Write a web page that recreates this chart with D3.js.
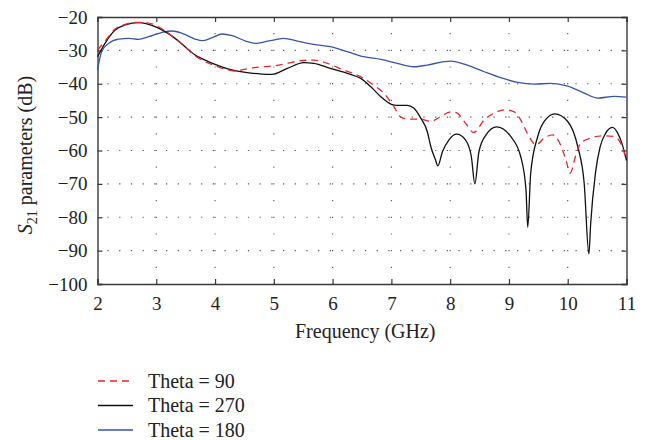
<!DOCTYPE html>
<html><head><meta charset="utf-8">
<script src="https://cdn.jsdelivr.net/npm/d3@7"></script>
<style>
html,body{margin:0;padding:0;background:#fff;}
svg{display:block;font-family:"Liberation Serif","DejaVu Serif",serif;}
</style></head>
<body>
<svg id="chart" width="649" height="440"></svg>
<script>
const xTicks = [2,3,4,5,6,7,8,9,10,11];
const yTicks = [-20,-30,-40,-50,-60,-70,-80,-90,-100];
const seriesNames = ["Theta = 90","Theta = 270","Theta = 180"];

const freq90 = [2.0,2.13,2.3,2.47,2.62,2.78,2.98,3.15,3.32,3.49,3.66,3.83,4.0,4.23,4.35,4.52,4.8,5.03,5.23,5.45,5.68,5.91,6.19,6.48,6.7,6.87,7.04,7.16,7.3,7.5,7.67,7.84,8.01,8.12,8.26,8.4,8.58,8.75,8.92,9.09,9.2,9.34,9.46,9.6,9.74,9.85,9.97,10.04,10.14,10.22,10.39,10.61,10.79,10.9,11.0];
const s90 = [-29.9,-27.2,-23.6,-22.2,-21.6,-21.6,-22.4,-24.2,-26.4,-29.0,-31.6,-33.4,-34.6,-35.9,-36.2,-35.6,-34.9,-34.6,-33.9,-33.1,-32.9,-33.9,-35.9,-37.9,-40.4,-42.8,-46.8,-50.0,-50.6,-50.6,-51.3,-49.8,-48.4,-48.8,-51.8,-54.6,-50.8,-48.8,-47.8,-48.4,-50.8,-55.8,-58.3,-56.3,-55.3,-57.3,-62.8,-66.8,-61.3,-57.8,-56.3,-55.6,-55.8,-57.8,-62.8];

const freq270 = [2.0,2.13,2.3,2.47,2.7,2.98,3.15,3.32,3.49,3.66,3.83,4.0,4.23,4.52,4.8,4.97,5.23,5.51,5.68,5.96,6.25,6.48,6.65,6.82,6.99,7.1,7.27,7.38,7.5,7.61,7.67,7.75,7.79,7.87,7.98,8.11,8.26,8.36,8.42,8.49,8.61,8.79,9.03,9.2,9.29,9.32,9.37,9.49,9.6,9.78,10.0,10.17,10.28,10.36,10.39,10.47,10.55,10.64,10.76,10.85,10.93,11.0];
const s270 = [-31.9,-27.8,-23.9,-22.4,-21.7,-22.9,-24.4,-26.4,-28.9,-31.4,-32.9,-34.2,-35.6,-36.6,-37.1,-37.2,-35.4,-33.7,-33.9,-35.4,-36.9,-38.4,-40.9,-43.9,-46.1,-46.5,-46.5,-47.3,-50.3,-54.3,-58.8,-62.8,-64.6,-60.3,-56.8,-55.1,-56.8,-61.8,-70.0,-60.3,-55.3,-52.9,-55.8,-61.8,-71.8,-83.0,-66.8,-55.8,-51.3,-49.0,-51.3,-58.8,-69.8,-91.0,-82.0,-67.0,-59.0,-55.0,-53.1,-54.8,-58.3,-63.0];

const freq180 = [2.0,2.07,2.19,2.36,2.53,2.7,2.87,3.1,3.27,3.44,3.66,3.78,3.95,4.12,4.29,4.52,4.69,4.86,5.03,5.17,5.4,5.68,5.96,6.25,6.53,6.82,7.1,7.38,7.61,7.89,8.01,8.29,8.58,8.86,9.15,9.43,9.71,10.0,10.28,10.51,10.79,11.0];
const s180 = [-35.9,-30.4,-27.9,-26.6,-26.4,-26.7,-25.9,-24.6,-24.2,-24.9,-26.6,-27.1,-26.2,-25.1,-25.6,-27.2,-27.9,-27.4,-26.8,-26.4,-27.2,-28.2,-28.9,-30.4,-31.9,-32.7,-33.9,-34.9,-34.4,-33.4,-33.2,-34.4,-36.4,-38.2,-39.6,-40.1,-39.9,-40.7,-42.8,-44.3,-43.8,-44.0];

const svg = d3.select("#chart");
const L = 97.5, R = 626.5, T = 17, B = 284;
const x = d3.scaleLinear().domain([2,11]).range([L,R]);
const y = d3.scaleLinear().domain([-100,-20]).range([B,T]);
const fmt = d => d < 0 ? "\u2212" + Math.abs(d) : String(d);
const axisCol = "#3a3a3a";

// grid
const grid = svg.append("g");
grid.selectAll("line.hg").data(yTicks.filter(d => d > -100 && d < -20)).join("line")
  .attr("x1", L).attr("x2", R).attr("y1", d => y(d)).attr("y2", d => y(d))
  .attr("stroke", "#555").attr("stroke-width", 1.1).attr("stroke-dasharray", "1.2,10.5")
  .attr("stroke-dashoffset", -10);
grid.selectAll("line.vg").data(xTicks.filter(d => d > 2 && d < 11)).join("line")
  .attr("x1", d => x(d)).attr("x2", d => x(d)).attr("y1", B).attr("y2", T)
  .attr("stroke", "#555").attr("stroke-width", 1.1).attr("stroke-dasharray", "1.2,15.5")
  .attr("stroke-dashoffset", -16);

// axes (inward ticks, box)
const gB = svg.append("g").attr("transform", `translate(0,${B})`)
  .call(d3.axisBottom(x).tickValues(xTicks).tickSize(-5).tickPadding(9).tickFormat(fmt));
const gT = svg.append("g").attr("transform", `translate(0,${T})`)
  .call(d3.axisTop(x).tickValues(xTicks).tickSize(-5).tickFormat(""));
const gL = svg.append("g").attr("transform", `translate(${L},0)`)
  .call(d3.axisLeft(y).tickValues(yTicks).tickSize(-5).tickPadding(10).tickFormat(fmt));
const gR = svg.append("g").attr("transform", `translate(${R},0)`)
  .call(d3.axisRight(y).tickValues(yTicks).tickSize(-5).tickFormat(""));
[gB,gT,gL,gR].forEach(g => {
  g.select(".domain").attr("stroke", axisCol).attr("stroke-width", 1.4);
  g.selectAll(".tick line").attr("stroke", axisCol).attr("stroke-width", 1.2);
  g.selectAll("text").attr("fill", "#222").style("font-size", "19px")
    .style("font-family", '"Liberation Serif","DejaVu Serif",serif');
});
gB.selectAll(".tick text").attr("dy", "0.9em");

// lines
const line = d3.line().x(d => x(d[0])).y(d => y(d[1])).curve(d3.curveMonotoneX);
const plot = svg.append("g");
plot.append("path").datum(d3.zip(freq180, s180)).attr("d", line)
  .attr("fill", "none").attr("stroke", "#3556aa").attr("stroke-width", 1.3);
plot.append("path").datum(d3.zip(freq270, s270)).attr("d", line)
  .attr("fill", "none").attr("stroke", "#111").attr("stroke-width", 1.3);
plot.append("path").datum(d3.zip(freq90, s90)).attr("d", line)
  .attr("fill", "none").attr("stroke", "#e8262a").attr("stroke-width", 1.3)
  .attr("stroke-dasharray", "7,5");

// axis titles
svg.append("text").attr("x", 295).attr("y", 338).attr("fill", "#222")
  .style("font-size", "20px").text("Frequency (GHz)");
const yl = svg.append("text").attr("transform", "translate(32,155) rotate(-90)")
  .attr("text-anchor", "middle").attr("fill", "#222").style("font-size", "20px");
yl.append("tspan").style("font-style", "italic").text("S");
yl.append("tspan").attr("dy", 5).style("font-size", "14px").text("21");
yl.append("tspan").attr("dy", -5).text(" parameters (dB)");

// legend
const legCols = ["#e8262a","#111","#3556aa"];
const legDash = ["7,5", null, null];
const leg = svg.append("g");
seriesNames.forEach((n, i) => {
  const yy = 381 + i * 24.5;
  leg.append("line").attr("x1", 98).attr("x2", 133).attr("y1", yy).attr("y2", yy)
    .attr("stroke", legCols[i]).attr("stroke-width", 1.3)
    .attr("stroke-dasharray", legDash[i]);
  leg.append("text").attr("x", 148).attr("y", yy + 6.5).attr("fill", "#222")
    .style("font-size", "20px").text(n);
});
</script>
</body></html>
